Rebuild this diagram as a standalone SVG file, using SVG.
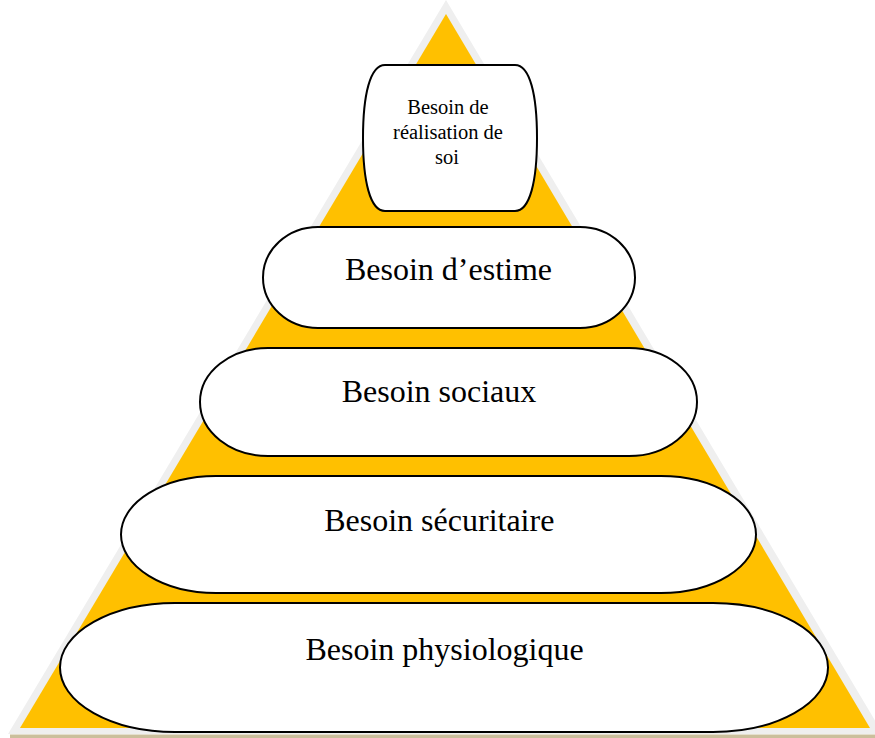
<svg xmlns="http://www.w3.org/2000/svg" width="875" height="738" viewBox="0 0 875 738">
  <style>
    .tier { fill: #ffffff; stroke: #000000; stroke-width: 2; }
    .label { font-family: "Liberation Serif", "Times New Roman", serif; fill: #000000; text-anchor: middle; }
    .big { font-size: 32px; }
    .small { font-size: 20.5px; }
  </style>

  <rect x="0" y="0" width="875" height="738" fill="#ffffff"/>

  <!-- pyramid background: pale rim, then the golden body -->
  <g id="pyramid">
    <polygon points="446,0 8,734 883,734" fill="#efefef"/>
    <rect x="10" y="734.5" width="865" height="3.5" fill="#cbbf9c"/>
    <polygon points="446,14 20,728 870,728" fill="#ffc000"/>
  </g>

  <!-- top tier -->
  <g id="tier-realisation">
    <path class="tier" d="M385,65 H515 C530,65 537,95 537,138 C537,181 530,211 515,211 H385 C370,211 363,181 363,138 C363,95 370,65 385,65 Z"/>
    <text class="label small" x="448" y="114">Besoin de</text>
    <text class="label small" x="448" y="139">réalisation de</text>
    <text class="label small" x="447" y="164">soi</text>
  </g>

  <g id="tier-estime">
    <rect class="tier" x="263" y="227" width="372" height="101" rx="55" ry="50.5"/>
    <text class="label big" x="448.5" y="280">Besoin d’estime</text>
  </g>

  <g id="tier-sociaux">
    <rect class="tier" x="200" y="348" width="497" height="108" rx="68" ry="54"/>
    <text class="label big" x="439" y="402">Besoin sociaux</text>
  </g>

  <g id="tier-securitaire">
    <rect class="tier" x="121" y="476" width="635" height="117" rx="95" ry="58.5"/>
    <text class="label big" x="439.3" y="531">Besoin sécuritaire</text>
  </g>

  <g id="tier-physiologique">
    <rect class="tier" x="60" y="603" width="768" height="129" rx="115" ry="64.5"/>
    <text class="label big" x="444.5" y="659.5">Besoin physiologique</text>
  </g>
</svg>
